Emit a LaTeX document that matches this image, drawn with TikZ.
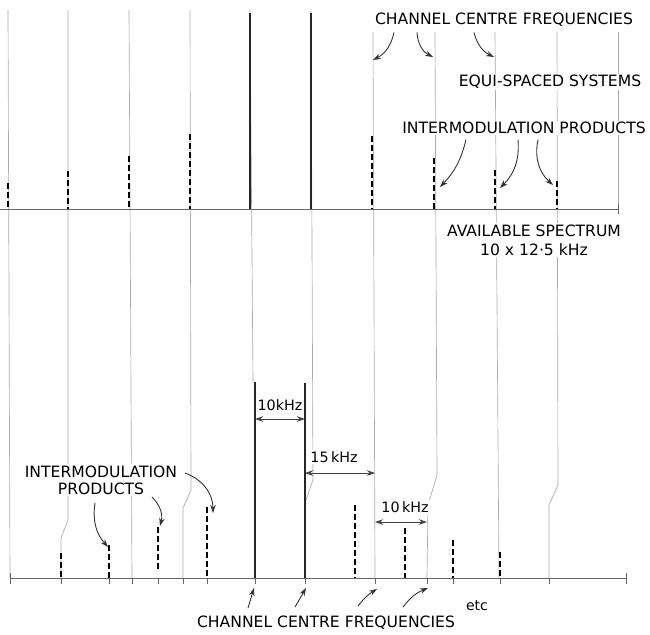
\documentclass[tikz,border=0pt]{standalone}
\usepackage{fontspec}
\setsansfont{DejaVu Sans}
\usetikzlibrary{arrows.meta}

\begin{document}
\begin{tikzpicture}[x=1pt,y=-1pt]
	\tikzstyle{guide} = [
		black!33, line width=0.65pt
	]
	\tikzstyle{axis} = [
		black!60, line width=0.9pt
	]
	\tikzstyle{carrier} = [
		black!85, line width=2pt
	]
	\tikzstyle{imp} = [
		black, line width=2.4pt, dash pattern=on 6pt off 3pt
	]
	\tikzstyle{caption} = [
		fill=white, inner sep=1.5pt, font=\sffamily\fontsize{15.6}{17}\selectfont
	]
	\tikzstyle{spacing} = [
		caption, font=\sffamily\fontsize{14.3}{16}\selectfont
	]
	\tikzstyle{pointer} = [
		black!80, line width=0.9pt, -{Stealth[length=8pt,width=5.5pt]}
	]
	\tikzstyle{dim} = [
		black!75, line width=0.9pt, {Stealth[length=8pt,width=5.5pt]}-{Stealth[length=8pt,width=5.5pt]}
	]
	\useasboundingbox (0,0) rectangle (650,634);

	% Guide lines from upper to lower spectrum
	\draw[guide] (8,10) -- (10,578);
	\draw[guide] (68,10) -- (68,520) -- (61,538) -- (61,578);
	\draw[guide] (129,10) -- (132,578);
	\draw[guide] (190,10) -- (191,490) -- (183,508) -- (183,578);
	\draw[guide] (250,10) -- (253,382);
	\draw[guide] (311,10) -- (313,480) -- (306,500);
	\draw[guide] (373,32) -- (375,578);
	\draw[guide] (435,32) -- (437,475) -- (428,505) -- (427,578);
	\draw[guide] (495,32) -- (499,578);
	\draw[guide] (557,32) -- (558,485) -- (549,505) -- (549,578);
	\draw[guide] (618,32) -- (618,209);

	% Upper spectrum (equi-spaced)
	\draw[axis] (0,209) -- (618,209) (618,204) -- (618,214);
	\draw[carrier] (250,13) -- (250,209);
	\draw[carrier] (311,13) -- (311,209);
	\draw[imp] (8,183) -- (8,209);
	\draw[imp] (68,171) -- (68,209);
	\draw[imp] (129,156) -- (129,209);
	\draw[imp] (190,134) -- (190,209);
	\draw[imp] (372,136) -- (372,209);
	\draw[imp] (434,158) -- (434,209);
	\draw[imp] (495,170) -- (495,209);
	\draw[imp] (557,181) -- (557,209);

	% Lower spectrum (unequal spacing)
	\draw[axis] (10,578) -- (626,578);
	\draw[axis] (10,573) -- (10,584) (61,578) -- (61,584) (109,578) -- (109,584)
		(132,578) -- (132,584) (158,578) -- (158,584) (183,578) -- (183,584)
		(207,578) -- (207,584) (255,578) -- (255,584) (305,578) -- (305,584)
		(375,578) -- (375,584) (427,578) -- (427,584) (453,578) -- (453,584)
		(500,578) -- (500,584) (549,578) -- (549,584) (626,573) -- (626,584);
	\draw[carrier] (255,382) -- (255,578);
	\draw[carrier] (305,383) -- (305,578);
	\draw[imp] (61,553) -- (61,578);
	\draw[imp] (109,545) -- (109,578);
	\draw[imp] (158,527) -- (158,570);
	\draw[imp] (207,507) -- (207,578);
	\draw[imp] (355,505) -- (355,578);
	\draw[imp] (405,528) -- (405,578);
	\draw[imp] (453,540) -- (453,578);
	\draw[imp] (500,552) -- (500,578);

	% Channel spacings
	\coordinate (ch1) at (255,419);
	\coordinate (ch2) at (305,419);
	\coordinate (ch2b) at (305,473);
	\coordinate (ch3) at (375,473);
	\coordinate (ch3b) at (375,522);
	\coordinate (ch4) at (427,522);
	\draw[dim] (ch1) -- (ch2);
	\draw[dim] (ch2b) -- (ch3);
	\draw[dim] (ch3b) -- (ch4);
	\node (sp1) [spacing, inner sep=0.5pt] at (280,405) {10kHz};
	\node (sp2) [spacing] at (334,457) {15\,kHz};
	\node (sp3) [spacing] at (405,507) {10\,kHz};

	% Upper captions
	\node (ccf_top) [caption] at (504,20) {CHANNEL CENTRE FREQUENCIES}
		coordinate [xshift=-110pt, yshift=-4pt] (ccf_a) at (ccf_top.south)
		coordinate [xshift=-87pt, yshift=-4pt] (ccf_b) at (ccf_top.south)
		coordinate [xshift=-30pt, yshift=-4pt] (ccf_c) at (ccf_top.south)
	;
	\node (equi) [caption] at (550,82) {EQUI-SPACED SYSTEMS};
	\node (imp_top) [caption] at (524,128) {INTERMODULATION PRODUCTS}
		coordinate [xshift=-58pt, yshift=-4pt] (imp_a) at (imp_top.south)
		coordinate [xshift=-6pt, yshift=-4pt] (imp_b) at (imp_top.south)
		coordinate [xshift=14pt, yshift=-4pt] (imp_c) at (imp_top.south)
	;
	\node (avail) [caption, align=center] at (534,240) {AVAILABLE SPECTRUM\\[2pt]10 x 12\textperiodcentered5 kHz};
	\coordinate (top_c7) at (373,60);
	\coordinate (top_c8) at (433,57);
	\coordinate (top_c9) at (494,57);
	\coordinate (top_i8) at (440,187);
	\coordinate (top_i9) at (500,188);
	\coordinate (top_i10) at (553,185);
	\draw[pointer] (ccf_a) to[bend left=25] (top_c7);
	\draw[pointer] (ccf_b) to[bend right=30] (top_c8);
	\draw[pointer] (ccf_c) to[bend right=25] (top_c9);
	\draw[pointer] (imp_a) to[bend left=15] (top_i8);
	\draw[pointer] (imp_b) to[bend left=25] (top_i9);
	\draw[pointer] (imp_c) to[bend right=30] (top_i10);

	% Lower captions
	\node (imp_low) [caption, align=center] at (101,480) {INTERMODULATION\\PRODUCTS}
		coordinate (imp_d) at (95,503)
		coordinate (imp_e) at (152,497)
		coordinate (imp_f) at (185,473)
	;
	\coordinate (low_i2) at (108,547);
	\coordinate (low_i3) at (160,526);
	\coordinate (low_i4) at (213,513);
	\draw[pointer] (imp_d) to[bend right=25] (low_i2);
	\draw[pointer] (imp_e) to[bend left=30] (low_i3);
	\draw[pointer] (imp_f) to[bend left=35] (low_i4);
	\node (ccf_low) [caption] at (326,623) {CHANNEL CENTRE FREQUENCIES}
		coordinate (ccf_d) at (248,608)
		coordinate (ccf_e) at (295,607)
		coordinate (ccf_f) at (358,606)
		coordinate (ccf_g) at (403,607)
	;
	\node (etc) [caption, font=\sffamily\fontsize{14}{16}\selectfont] at (477,606) {etc};
	\coordinate (low_c1) at (254,588);
	\coordinate (low_c2) at (306,588);
	\coordinate (low_c3) at (377,589);
	\coordinate (low_c4) at (428,588);
	\draw[pointer] (ccf_d) -- (low_c1);
	\draw[pointer] (ccf_e) -- (low_c2);
	\draw[pointer] (ccf_f) to[bend left=10] (low_c3);
	\draw[pointer] (ccf_g) to[bend left=15] (low_c4);

\end{tikzpicture}
\end{document}
